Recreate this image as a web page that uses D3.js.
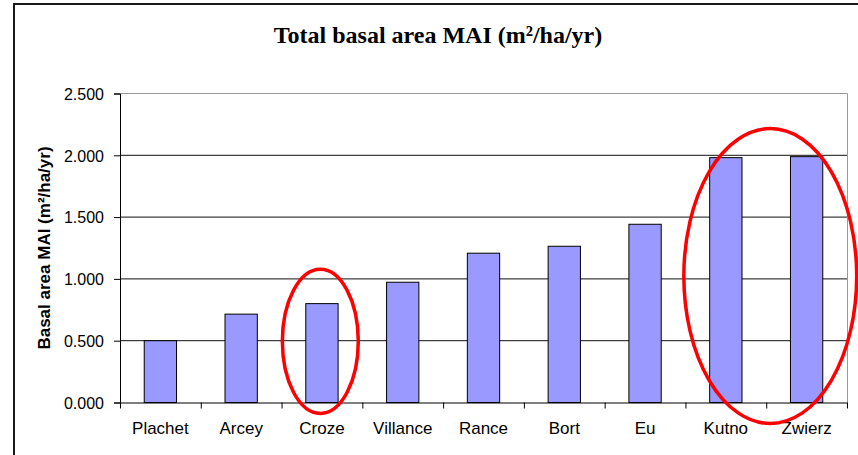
<!DOCTYPE html>
<html lang="en">
<head>
  <meta charset="UTF-8">
  <title>Total basal area MAI</title>
  <script src="https://d3js.org/d3.v7.min.js"></script>
  <style>
    body { margin: 0; background: #fff; }
    .tick text { fill: #000; }
    .ylabel { font: bold 17px "Liberation Sans", Arial, sans-serif; }
    .title { font: bold 24px "Liberation Serif", "Times New Roman", serif; }
  </style>
</head>
<body>
  <svg width="858" height="455"></svg>
  <script>
    // data
    const sites = ["Plachet", "Arcey", "Croze", "Villance", "Rance", "Bort", "Eu", "Kutno", "Zwierz"];
    const basalMAI = [0.500, 0.715, 0.800, 0.973, 1.208, 1.264, 1.442, 1.981, 1.989];
    const yTicks = [0, 0.5, 1.0, 1.5, 2.0, 2.5];

    // red ellipses drawn over the chart: sites covered, centre value, half height (value units),
    // half width and centre shift in category steps
    const highlights = [
      { first: "Croze", last: "Croze", mid: 0.495, half: 0.583, halfW: 0.47, shift: -0.02 },
      { first: "Kutno", last: "Zwierz", mid: 1.023, half: 1.193, halfW: 1.07, shift: 0.05 }
    ];

    const svg = d3.select("svg");
    const plot = { left: 120, right: 847, top: 93.5, bottom: 402.5 };

    // outer chart frame (clipped at right / bottom like the picture)
    svg.append("rect")
        .attr("x", 14).attr("y", 4)
        .attr("width", 900).attr("height", 500)
        .attr("fill", "none")
        .attr("stroke", "#1a1a1a")
        .attr("stroke-width", 2);

    const x = d3.scaleBand()
        .domain(sites)
        .range([plot.left, plot.right])
        .paddingInner(0.6)
        .paddingOuter(0.3);

    const xEdge = d3.scaleLinear()
        .domain([0, sites.length])
        .range([plot.left, plot.right]);

    const y = d3.scaleLinear()
        .domain([0, 2.5])
        .range([plot.bottom, plot.top]);

    // plot area border (grey top/right)
    svg.append("path")
        .attr("d", `M${plot.left},${plot.top}H${plot.right + 0.5}V${plot.bottom}`)
        .attr("fill", "none")
        .attr("stroke", "#9a9a9a")
        .attr("stroke-width", 1);

    // gridlines
    svg.append("g")
      .selectAll("line")
      .data(yTicks.slice(1, -1))
      .enter().append("line")
        .attr("x1", plot.left).attr("x2", plot.right)
        .attr("y1", d => y(d)).attr("y2", d => y(d))
        .attr("stroke", "#111")
        .attr("stroke-width", 1);

    // bars
    svg.append("g")
      .selectAll("rect")
      .data(sites)
      .enter().append("rect")
        .attr("x", d => x(d))
        .attr("y", (d, i) => y(basalMAI[i]))
        .attr("width", x.bandwidth())
        .attr("height", (d, i) => y(0) - y(basalMAI[i]))
        .attr("fill", "#9999ff")
        .attr("stroke", "#000")
        .attr("stroke-width", 1);

    // y axis
    const yAxis = svg.append("g")
        .attr("transform", `translate(${plot.left},0)`)
        .call(d3.axisLeft(y)
          .tickValues(yTicks)
          .tickFormat(d3.format(".3f"))
          .tickSize(6)
          .tickPadding(10));
    yAxis.selectAll("text")
        .style("font", "16px 'Liberation Sans', Arial, sans-serif")
        .attr("dy", "0.36em");
    yAxis.select(".domain").attr("stroke", "#000");

    // x axis: ticks on category boundaries
    const xTicks = svg.append("g")
        .attr("transform", `translate(0,${plot.bottom})`)
        .call(d3.axisBottom(xEdge)
          .tickValues(d3.range(sites.length + 1))
          .tickFormat("")
          .tickSize(6)
          .tickSizeOuter(0));
    xTicks.select(".domain").attr("stroke", "#000");

    // category labels centred in each band
    const xLabels = svg.append("g")
        .attr("transform", `translate(0,${plot.bottom})`)
        .call(d3.axisBottom(x).tickSize(0).tickPadding(19));
    xLabels.select(".domain").remove();
    xLabels.selectAll("text")
        .style("font", "17px 'Liberation Sans', Arial, sans-serif");

    // title
    svg.append("text")
        .attr("class", "title")
        .attr("x", 438)
        .attr("y", 43)
        .attr("text-anchor", "middle")
        .text("Total basal area MAI (m²/ha/yr)");

    // y axis title
    svg.append("text")
        .attr("class", "ylabel")
        .attr("transform", `translate(50,${(plot.top + plot.bottom) / 2}) rotate(-90)`)
        .attr("text-anchor", "middle")
        .text("Basal area MAI (m²/ha/yr)");

    // red highlight ellipses
    const step = x.step();
    svg.append("g")
      .selectAll("ellipse")
      .data(highlights)
      .enter().append("ellipse")
        .attr("cx", d => (x(d.first) + x(d.last) + x.bandwidth()) / 2 + d.shift * step)
        .attr("cy", d => y(d.mid))
        .attr("rx", d => d.halfW * step)
        .attr("ry", d => y(0) - y(d.half))
        .attr("fill", "none")
        .attr("stroke", "#ff0000")
        .attr("stroke-width", 3.5);
  </script>
</body>
</html>
